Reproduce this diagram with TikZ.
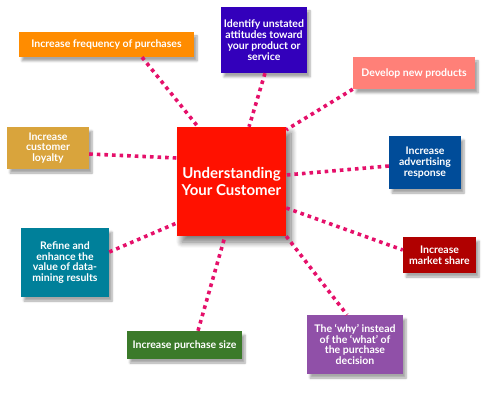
\documentclass[tikz,border=0pt]{standalone}
\usepackage{fontspec}
\setmainfont{Lato}
\usetikzlibrary{shadows.blur,calc}
\definecolor{cOrange}{HTML}{FF8C00}
\definecolor{cIndigo}{HTML}{3300BB}
\definecolor{cSalmon}{HTML}{FF8078}
\definecolor{cGold}{HTML}{D9A43C}
\definecolor{cRed}{HTML}{FF1100}
\definecolor{cBlue}{HTML}{004C99}
\definecolor{cTeal}{HTML}{00809A}
\definecolor{cGreen}{HTML}{3B7A2A}
\definecolor{cDark}{HTML}{B00000}
\definecolor{cPurple}{HTML}{9050A8}
\definecolor{cLink}{HTML}{E5106A}
\tikzset{
  box/.style={inner sep=1pt, text=white, font=\bfseries\fontsize{10.5}{10.8}\selectfont, align=center,
    blur shadow={shadow xshift=3pt, shadow yshift=-4pt, shadow blur steps=6, shadow opacity=35}},
  link/.style={draw=cLink, line width=3.6pt, dash pattern=on 3.6pt off 4pt}
}
\begin{document}
\begin{tikzpicture}[x=1pt,y=-1pt]
\useasboundingbox (0,0) rectangle (500,395);
\node[box, fill=cRed, minimum width=109pt, minimum height=109pt,
  font=\bfseries\fontsize{15}{16.5}\selectfont,
  blur shadow={shadow xshift=5pt, shadow yshift=-6pt, shadow blur steps=10, shadow blur radius=6pt, shadow opacity=30}] (red) at (231.5,181.5) {Understanding\\Your Customer};
\node[box, fill=cOrange, minimum width=175pt, minimum height=25pt] (orange) at (106.5,44.5) {Increase frequency of purchases};
\node[box, fill=cIndigo, minimum width=86pt, minimum height=66pt] (ident) at (264,40) {Identify unstated\\attitudes toward\\your product or\\service};
\node[box, fill=cSalmon, minimum width=122pt, minimum height=32pt] (develop) at (414,73) {Develop new products};
\node[box, fill=cGold, minimum width=82pt, minimum height=42pt] (loyal) at (48,148) {Increase\\customer\\loyalty};
\node[box, fill=cBlue, minimum width=72pt, minimum height=53pt] (advert) at (425,162.5) {Increase\\advertising\\response};
\node[box, fill=cTeal, minimum width=88pt, minimum height=69pt] (refine) at (65,262.5) {Refine and\\enhance the\\value of data-\\mining results};
\node[box, fill=cGreen, minimum width=115pt, minimum height=28pt] (size) at (184.5,345) {Increase purchase size};
\node[box, fill=cDark, minimum width=73pt, minimum height=36pt] (market) at (439.5,255) {Increase\\market share};
\node[box, fill=cPurple, minimum width=96pt, minimum height=59pt] (why) at (355,344.5) {The ‘why’ instead\\of the ‘what’ of\\the purchase\\decision};
\draw[link] ([xshift=35.5pt]orange.south) -- ([xshift=-33.5pt]red.north);
\draw[link] ([xshift=1pt]ident.south) -- ([xshift=17.5pt]red.north);
\draw[link] (develop.south west) -- ([yshift=-3pt]red.north east);
\draw[link] ([yshift=-6pt]loyal.east) -- ([yshift=23.5pt]red.west);
\draw[link] ([yshift=-3.5pt]advert.west) -- ([yshift=6.5pt]red.east);
\draw[link] ([yshift=10.5pt]refine.east) -- ([yshift=-41.5pt]red.west);
\draw[link] ([xshift=13.5pt]size.north) -- ([xshift=-6.5pt]red.south);
\draw[link] ([yshift=-26.5pt]red.east) -- ([yshift=5pt]market.west);
\draw[link] (red.south east) -- ([xshift=-8pt]why.north);
\end{tikzpicture}
\end{document}
